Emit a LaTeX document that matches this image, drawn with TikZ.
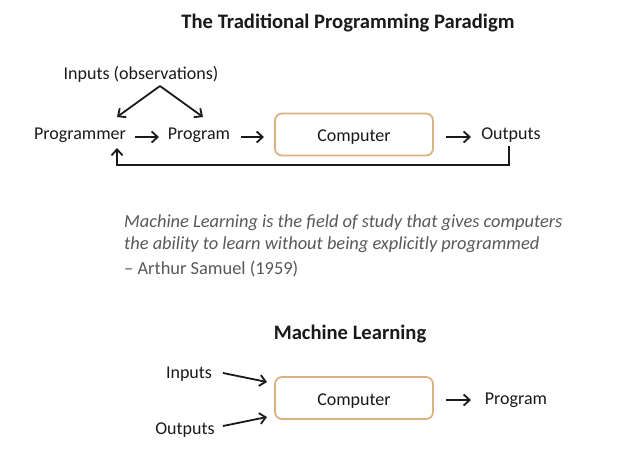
\documentclass[tikz,border=0pt]{standalone}
\usepackage{fontspec}
\setmainfont{Carlito}
\usetikzlibrary{arrows.meta}
\definecolor{boxline}{HTML}{DDB183}
\definecolor{quotegray}{HTML}{595959}
\definecolor{ink}{HTML}{1A1A1A}
\tikzset{
  lbl/.style={anchor=base, inner sep=0pt, text=ink, font=\fontsize{18}{21}\selectfont},
  ttl/.style={anchor=base, inner sep=0pt, text=ink, font=\fontsize{20.6}{24}\selectfont\bfseries},
  qt/.style={anchor=base west, inner sep=0pt, text=quotegray, font=\fontsize{18.4}{22}\selectfont},
  compbox/.style={draw=boxline, line width=1.8pt, rounded corners=7pt, minimum width=158pt, minimum height=42pt, inner sep=0pt, text=ink, font=\fontsize{18}{21}\selectfont},
  arr/.style={-{Straight Barb[length=6pt,width=11pt]}, line width=1.8pt, draw=ink},
}
\newcommand{\lowtext}[1]{\raisebox{-3pt}[\height][\depth]{#1}}
\begin{document}
\begin{tikzpicture}[x=1pt,y=-1pt]
\useasboundingbox[fill=white] (0,0) rectangle (642,464);
% Title
\node[ttl] (t1) at (348,28) {The Traditional Programming Paradigm};
% Top diagram
\node[lbl] (inp) at (141,79) {Inputs (observations)};
\coordinate (apex) at (160,86);
\node[lbl] (prgr) at (80,139) {Programmer};
\node[lbl] (prog) at (199,139) {Program};
\node[compbox] (comp) at (354,134.5) {\lowtext{Computer}};
\node[lbl] (out) at (511,139) {Outputs};
\coordinate (pl) at (117,117);
\coordinate (pr) at (203,117);
\draw[arr] (apex) -- (pl);
\draw[arr] (apex) -- (pr);
\coordinate (a1s) at (135,137); \coordinate (a1e) at (159,137);
\draw[arr] (a1s) -- (a1e);
\coordinate (a2s) at (241,137); \coordinate (a2e) at (264,137);
\draw[arr] (a2s) -- (a2e);
\coordinate (a3s) at (446,137); \coordinate (a3e) at (471,137);
\draw[arr] (a3s) -- (a3e);
\coordinate (fb1) at (509,146);
\coordinate (fb2) at (117,148);
\draw[arr] (fb1) -- (509,165) -- (117,165) -- (fb2);
% Quote
\node[qt] (q1) at (124,227) {\itshape Machine Learning is the field of study that gives computers};
\node[qt] (q2) at (124,249) {\itshape the ability to learn without being explicitly programmed};
\node[qt] (q3) at (124,274) {– Arthur Samuel (1959)};
% Bottom diagram
\node[ttl] (t2) at (350,339) {Machine Learning};
\node[lbl] (inp2) at (189,378) {Inputs};
\node[lbl] (out2) at (185,434) {Outputs};
\node[compbox] (comp2) at (354,398) {\lowtext{Computer}};
\node[lbl] (prog2) at (516,404) {Program};
\coordinate (b1s) at (223,373); \coordinate (b1e) at (267,382);
\draw[arr] (b1s) -- (b1e);
\coordinate (b2s) at (223,426); \coordinate (b2e) at (267,417);
\draw[arr] (b2s) -- (b2e);
\coordinate (b3s) at (446,400); \coordinate (b3e) at (471,400);
\draw[arr] (b3s) -- (b3e);
\end{tikzpicture}
\end{document}
